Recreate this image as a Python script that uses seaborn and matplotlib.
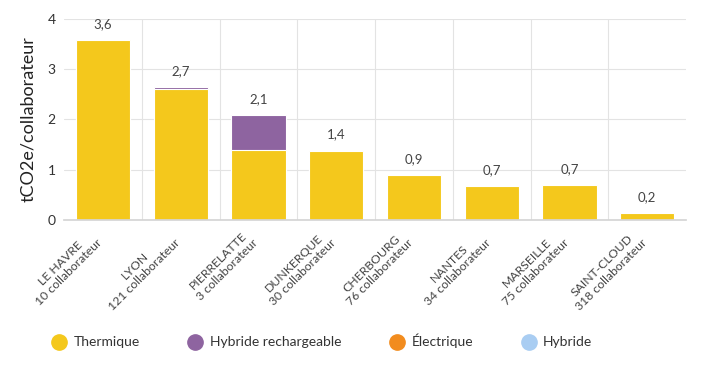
import matplotlib
matplotlib.use("Agg")
import matplotlib.pyplot as plt
from matplotlib.lines import Line2D
from matplotlib.transforms import ScaledTranslation
import seaborn as sns
import numpy as np
import pandas as pd

# data
sites = ["LE HAVRE", "LYON", "PIERRELATTE", "DUNKERQUE", "CHERBOURG",
         "NANTES", "MARSEILLE", "SAINT-CLOUD"]
headcount = [10, 121, 3, 30, 76, 34, 75, 318]
thermique = [3.58, 2.60, 1.39, 1.38, 0.89, 0.68, 0.69, 0.14]
hybride_rech = [0.0, 0.04, 0.70, 0.0, 0.0, 0.0, 0.0, 0.0]
electrique = [0.0] * 8
hybride = [0.0] * 8
totals_shown = ["3,6", "2,7", "2,1", "1,4", "0,9", "0,7", "0,7", "0,2"]

series = ["Thermique", "Hybride rechargeable", "Électrique", "Hybride"]
colors = ["#F4C81C", "#8E64A0", "#F28C1E", "#A9CDF2"]

sns.set_theme(style="white")
plt.rcParams["font.family"] = ["Lato", "DejaVu Sans"]

labels = [f"{s}\n{n} collaborateur" for s, n in zip(sites, headcount)]
df = pd.DataFrame({
    "site": labels,
    "thermique": thermique,
    "hyb_rech": hybride_rech,
    "elec": electrique,
    "hyb": hybride,
})
df["total"] = df[["thermique", "hyb_rech", "elec", "hyb"]].sum(axis=1)

fig, ax = plt.subplots(figsize=(7.2, 3.66), dpi=100)
fig.subplots_adjust(left=0.089, right=0.953, top=0.948, bottom=0.399)

# stacked: draw cumulative totals back to front
layers = [
    (df["total"], colors[3]),
    (df["thermique"] + df["hyb_rech"] + df["elec"], colors[2]),
    (df["thermique"] + df["hyb_rech"], colors[1]),
    (df["thermique"], colors[0]),
]
for vals, c in layers:
    sns.barplot(x=df["site"], y=vals, color=c, width=0.7, ax=ax,
                edgecolor="white", linewidth=0.8, saturation=1)

for i, (v, t) in enumerate(zip(df["total"], totals_shown)):
    ax.text(i, v + 0.2, t, ha="center", va="bottom", fontsize=9.5, color="#444444")

ax.set_ylim(0, 4)
ax.set_xlim(-0.5, len(sites) - 0.5)
ax.set_yticks([0, 1, 2, 3, 4])
ax.set_ylabel("tCO2e/collaborateur", fontsize=13, color="#222222", labelpad=8)
ax.set_xlabel("")
ax.tick_params(axis="y", labelsize=10, colors="#333333", length=0, pad=6)
ax.tick_params(axis="x", length=0, pad=10)
ax.set_xticks(range(len(sites)))
ax.set_xticklabels(labels, rotation=45, ha="right", rotation_mode="anchor",
                   fontsize=8.8, color="#444444", linespacing=1.15,
                   multialignment="center")
# nudge the rotated labels to sit left of the bar centre like the original
shift = ScaledTranslation(-11 / 72, 4 / 72, fig.dpi_scale_trans)
for lab in ax.get_xticklabels():
    lab.set_transform(lab.get_transform() + shift)

ax.set_xticks(np.arange(0.5, len(sites) - 0.5, 1), minor=True)
ax.grid(axis="y", color="#e3e3e3", linewidth=0.8)
ax.grid(axis="x", which="minor", color="#e3e3e3", linewidth=0.8)
ax.set_axisbelow(True)
for s in ["top", "right", "left"]:
    ax.spines[s].set_visible(False)
ax.spines["bottom"].set_color("#d5d5d5")

handles = [Line2D([0], [0], marker="o", linestyle="", markersize=11,
                  markerfacecolor=c, markeredgecolor=c) for c in colors]
fig.legend(handles, series, loc="center left", bbox_to_anchor=(0.045, 0.068),
           ncol=4, frameon=False, fontsize=10, handletextpad=0.05,
           columnspacing=3.0, labelcolor="#333333")

fig.savefig("out.png", dpi=100)
